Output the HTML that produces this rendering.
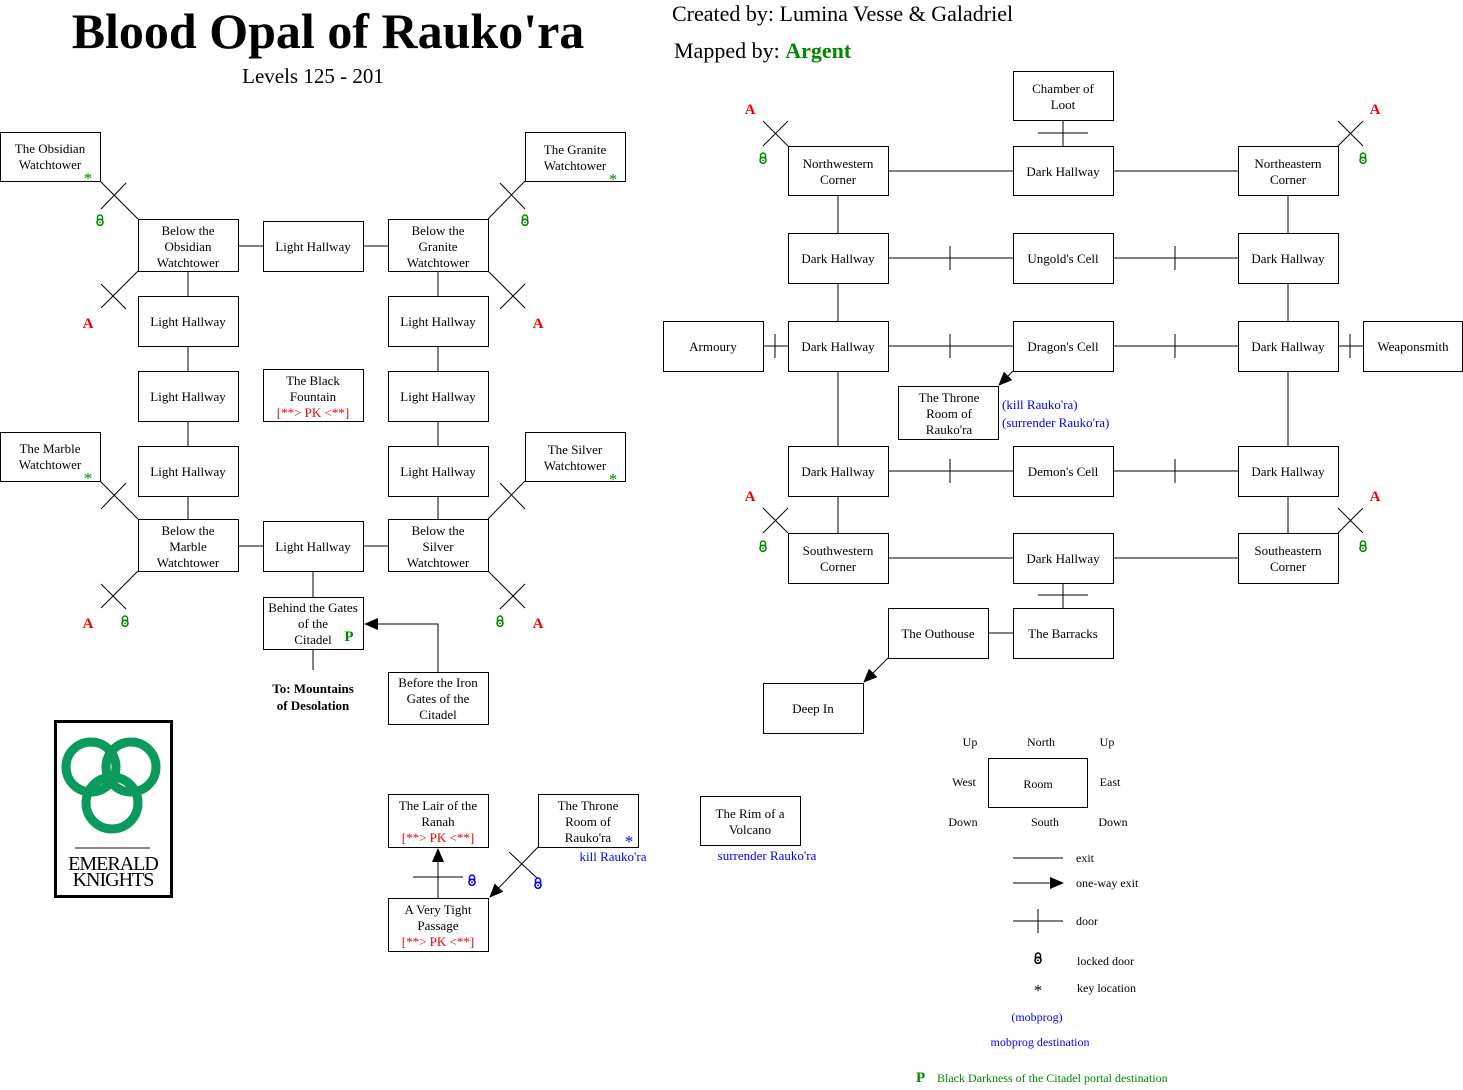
<!DOCTYPE html>
<html><head><meta charset="utf-8"><style>
html,body{margin:0;padding:0;background:#fff}
svg{display:block}
text{font-family:"Liberation Serif",serif;font-size:13px;fill:#000}
.c{text-anchor:middle}
.r{fill:#e00}
.b{fill:#00f}
.g{fill:#080}
.s{font-size:17px}
.A{fill:#e00;font-weight:bold;font-size:15px;text-anchor:middle}
rect.bx{fill:#fff;stroke:#000;stroke-width:1}
line,polyline{stroke:#000;stroke-width:1;fill:none}
.lg{font-size:12px}
</style></head><body>
<svg width="1463" height="1090" viewBox="0 0 1463 1090" xmlns="http://www.w3.org/2000/svg">
<defs>
<symbol id="lk" viewBox="0 0 8 12"><path d="M1.5 6 V3.5 a2.5 2.5 0 0 1 5 0 V6" fill="none" stroke="currentColor" stroke-width="1.5"/><circle cx="4" cy="8.3" r="3" fill="none" stroke="currentColor" stroke-width="1.6"/><circle cx="4" cy="8.3" r="0.9" fill="currentColor"/></symbol>
<marker id="ar" markerWidth="14" markerHeight="12" refX="13" refY="6" orient="auto" markerUnits="userSpaceOnUse"><path d="M0 0 L14 6 L0 12 Z" fill="#000"/></marker>
</defs>

<text x="328" y="48" class="c" style="font-size:50px;font-weight:bold">Blood Opal of Rauko'ra</text>
<text x="313" y="83" class="c" style="font-size:21px">Levels 125 - 201</text>
<text x="672" y="21" style="font-size:22px">Created by: Lumina Vesse &amp; Galadriel</text>
<text x="674" y="58" style="font-size:22px">Mapped by: <tspan style="fill:#080;font-weight:bold">Argent</tspan></text>

<line x1="238" y1="246" x2="263" y2="246"/><line x1="363" y1="246" x2="388" y2="246"/>
<line x1="238" y1="546" x2="263" y2="546"/><line x1="363" y1="546" x2="388" y2="546"/>
<line x1="188" y1="271" x2="188" y2="296"/><line x1="188" y1="346" x2="188" y2="371"/><line x1="188" y1="421" x2="188" y2="446"/><line x1="188" y1="496" x2="188" y2="519"/>
<line x1="438" y1="271" x2="438" y2="296"/><line x1="438" y1="346" x2="438" y2="371"/><line x1="438" y1="421" x2="438" y2="446"/><line x1="438" y1="496" x2="438" y2="519"/>
<line x1="313" y1="571" x2="313" y2="597"/><line x1="313" y1="649" x2="313" y2="670"/>
<polyline points="438,672 438,624 365,624" marker-end="url(#ar)"/>
<line x1="100" y1="181" x2="138" y2="219"/><line x1="101" y1="209" x2="126" y2="183"/>
<line x1="138" y1="271" x2="101" y2="308"/><line x1="101" y1="284" x2="126" y2="309"/>
<line x1="525" y1="181" x2="488" y2="219"/><line x1="500" y1="183" x2="525" y2="209"/>
<line x1="488" y1="271" x2="525" y2="308"/><line x1="525" y1="284" x2="500" y2="309"/>
<line x1="100" y1="481" x2="138" y2="519"/><line x1="101" y1="509" x2="126" y2="483"/>
<line x1="138" y1="571" x2="101" y2="608"/><line x1="101" y1="584" x2="126" y2="609"/>
<line x1="525" y1="481" x2="488" y2="519"/><line x1="500" y1="483" x2="525" y2="509"/>
<line x1="488" y1="571" x2="525" y2="608"/><line x1="525" y1="584" x2="500" y2="609"/>
<line x1="438" y1="898" x2="438" y2="849" marker-end="url(#ar)"/><line x1="413" y1="877" x2="463" y2="877"/>
<line x1="538" y1="847" x2="490" y2="897" marker-end="url(#ar)"/><line x1="509" y1="852" x2="537" y2="878"/>

<line x1="1063" y1="120" x2="1063" y2="146"/><line x1="1038" y1="133" x2="1088" y2="133"/>
<line x1="888" y1="171" x2="1013" y2="171"/><line x1="1113" y1="171" x2="1238" y2="171"/>
<line x1="888" y1="558" x2="1013" y2="558"/><line x1="1113" y1="558" x2="1238" y2="558"/>
<line x1="838" y1="195" x2="838" y2="233"/><line x1="838" y1="283" x2="838" y2="321"/><line x1="838" y1="371" x2="838" y2="446"/><line x1="838" y1="496" x2="838" y2="533"/>
<line x1="1288" y1="195" x2="1288" y2="233"/><line x1="1288" y1="283" x2="1288" y2="321"/><line x1="1288" y1="371" x2="1288" y2="446"/><line x1="1288" y1="496" x2="1288" y2="533"/>
<line x1="888" y1="258" x2="1013" y2="258"/><line x1="1113" y1="258" x2="1238" y2="258"/>
<line x1="888" y1="346" x2="1013" y2="346"/><line x1="1113" y1="346" x2="1238" y2="346"/>
<line x1="888" y1="471" x2="1013" y2="471"/><line x1="1113" y1="471" x2="1238" y2="471"/>
<line x1="950" y1="246" x2="950" y2="270"/><line x1="1175" y1="246" x2="1175" y2="270"/>
<line x1="950" y1="334" x2="950" y2="358"/><line x1="1175" y1="334" x2="1175" y2="358"/>
<line x1="950" y1="459" x2="950" y2="483"/><line x1="1175" y1="459" x2="1175" y2="483"/>
<line x1="763" y1="346" x2="788" y2="346"/><line x1="775" y1="334" x2="775" y2="358"/>
<line x1="1338" y1="346" x2="1363" y2="346"/><line x1="1350" y1="334" x2="1350" y2="358"/>
<line x1="1063" y1="583" x2="1063" y2="608"/><line x1="1038" y1="595" x2="1088" y2="595"/>
<line x1="988" y1="633" x2="1013" y2="633"/>
<line x1="1013" y1="371" x2="999" y2="385" marker-end="url(#ar)"/>
<line x1="888" y1="658" x2="864" y2="682" marker-end="url(#ar)"/>
<line x1="763" y1="121" x2="788" y2="146"/><line x1="763" y1="146" x2="788" y2="121"/>
<line x1="1338" y1="146" x2="1363" y2="121"/><line x1="1338" y1="121" x2="1363" y2="146"/>
<line x1="763" y1="508" x2="788" y2="533"/><line x1="763" y1="533" x2="788" y2="508"/>
<line x1="1338" y1="533" x2="1363" y2="508"/><line x1="1338" y1="508" x2="1363" y2="533"/>

<rect class="bx" x="0.5" y="132.5" width="100" height="49"/><text x="50" y="153" class="c">The Obsidian</text><text x="50" y="169" class="c">Watchtower</text><text x="88" y="184" class="c g s">*</text>
<rect class="bx" x="525.5" y="132.5" width="100" height="49"/><text x="575" y="154" class="c">The Granite</text><text x="575" y="170" class="c">Watchtower</text><text x="613" y="185" class="c g s">*</text>
<rect class="bx" x="0.5" y="432.5" width="100" height="49"/><text x="50" y="453" class="c">The Marble</text><text x="50" y="469" class="c">Watchtower</text><text x="88" y="484" class="c g s">*</text>
<rect class="bx" x="525.5" y="432.5" width="100" height="49"/><text x="575" y="454" class="c">The Silver</text><text x="575" y="470" class="c">Watchtower</text><text x="613" y="485" class="c g s">*</text>

<rect class="bx" x="138.5" y="219.5" width="100" height="52"/><text x="188" y="235" class="c">Below the</text><text x="188" y="251" class="c">Obsidian</text><text x="188" y="267" class="c">Watchtower</text>
<rect class="bx" x="263.5" y="221.5" width="100" height="50"/><text x="313" y="251" class="c">Light Hallway</text>
<rect class="bx" x="388.5" y="219.5" width="100" height="52"/><text x="438" y="235" class="c">Below the</text><text x="438" y="251" class="c">Granite</text><text x="438" y="267" class="c">Watchtower</text>
<rect class="bx" x="138.5" y="296.5" width="100" height="50"/><text x="188" y="326" class="c">Light Hallway</text>
<rect class="bx" x="388.5" y="296.5" width="100" height="50"/><text x="438" y="326" class="c">Light Hallway</text>
<rect class="bx" x="138.5" y="371.5" width="100" height="50"/><text x="188" y="401" class="c">Light Hallway</text>
<rect class="bx" x="263.5" y="369.5" width="100" height="52"/><text x="313" y="385" class="c">The Black</text><text x="313" y="401" class="c">Fountain</text><text x="313" y="417" class="c r">[**&gt; PK &lt;**]</text>
<rect class="bx" x="388.5" y="371.5" width="100" height="50"/><text x="438" y="401" class="c">Light Hallway</text>
<rect class="bx" x="138.5" y="446.5" width="100" height="50"/><text x="188" y="476" class="c">Light Hallway</text>
<rect class="bx" x="388.5" y="446.5" width="100" height="50"/><text x="438" y="476" class="c">Light Hallway</text>
<rect class="bx" x="138.5" y="519.5" width="100" height="52"/><text x="188" y="535" class="c">Below the</text><text x="188" y="551" class="c">Marble</text><text x="188" y="567" class="c">Watchtower</text>
<rect class="bx" x="263.5" y="521.5" width="100" height="50"/><text x="313" y="551" class="c">Light Hallway</text>
<rect class="bx" x="388.5" y="519.5" width="100" height="52"/><text x="438" y="535" class="c">Below the</text><text x="438" y="551" class="c">Silver</text><text x="438" y="567" class="c">Watchtower</text>
<rect class="bx" x="263.5" y="597.5" width="100" height="52"/><text x="313" y="612" class="c">Behind the Gates</text><text x="313" y="628" class="c">of the</text><text x="313" y="644" class="c">Citadel</text><text x="349" y="641" class="c g" style="font-weight:bold;font-size:15px">P</text>
<text x="313" y="693" class="c" style="font-weight:bold">To: Mountains</text><text x="313" y="710" class="c" style="font-weight:bold">of Desolation</text>
<rect class="bx" x="388.5" y="672.5" width="100" height="52"/><text x="438" y="687" class="c">Before the Iron</text><text x="438" y="703" class="c">Gates of the</text><text x="438" y="719" class="c">Citadel</text>

<rect class="bx" x="388.5" y="794.5" width="100" height="53"/><text x="438" y="810" class="c">The Lair of the</text><text x="438" y="826" class="c">Ranah</text><text x="438" y="842" class="c r">[**&gt; PK &lt;**]</text>
<rect class="bx" x="538.5" y="794.5" width="100" height="53"/><text x="588" y="810" class="c">The Throne</text><text x="588" y="826" class="c">Room of</text><text x="588" y="842" class="c">Rauko'ra</text><text x="629" y="847" class="c b s">*</text>
<text x="613" y="861" class="c b">kill Rauko'ra</text>
<rect class="bx" x="388.5" y="898.5" width="100" height="53"/><text x="438" y="914" class="c">A Very Tight</text><text x="438" y="930" class="c">Passage</text><text x="438" y="946" class="c r">[**&gt; PK &lt;**]</text>
<rect class="bx" x="700.5" y="796.5" width="100" height="49"/><text x="750" y="818" class="c">The Rim of a</text><text x="750" y="834" class="c">Volcano</text>
<text x="767" y="860" class="c b">surrender Rauko'ra</text>

<rect class="bx" x="1013.5" y="71.5" width="100" height="49"/><text x="1063" y="93" class="c">Chamber of</text><text x="1063" y="109" class="c">Loot</text>
<rect class="bx" x="788.5" y="146.5" width="100" height="49"/><text x="838" y="168" class="c">Northwestern</text><text x="838" y="184" class="c">Corner</text>
<rect class="bx" x="1013.5" y="146.5" width="100" height="49"/><text x="1063" y="176" class="c">Dark Hallway</text>
<rect class="bx" x="1238.5" y="146.5" width="100" height="49"/><text x="1288" y="168" class="c">Northeastern</text><text x="1288" y="184" class="c">Corner</text>
<rect class="bx" x="788.5" y="233.5" width="100" height="50"/><text x="838" y="263" class="c">Dark Hallway</text>
<rect class="bx" x="1013.5" y="233.5" width="100" height="50"/><text x="1063" y="263" class="c">Ungold's Cell</text>
<rect class="bx" x="1238.5" y="233.5" width="100" height="50"/><text x="1288" y="263" class="c">Dark Hallway</text>
<rect class="bx" x="663.5" y="321.5" width="100" height="50"/><text x="713" y="351" class="c">Armoury</text>
<rect class="bx" x="788.5" y="321.5" width="100" height="50"/><text x="838" y="351" class="c">Dark Hallway</text>
<rect class="bx" x="1013.5" y="321.5" width="100" height="50"/><text x="1063" y="351" class="c">Dragon's Cell</text>
<rect class="bx" x="1238.5" y="321.5" width="100" height="50"/><text x="1288" y="351" class="c">Dark Hallway</text>
<rect class="bx" x="1363.5" y="321.5" width="99" height="50"/><text x="1413" y="351" class="c">Weaponsmith</text>
<rect class="bx" x="898.5" y="386.5" width="100" height="53"/><text x="949" y="402" class="c">The Throne</text><text x="949" y="418" class="c">Room of</text><text x="949" y="434" class="c">Rauko'ra</text>
<text x="1002" y="409" class="b">(kill Rauko'ra)</text><text x="1002" y="427" class="b">(surrender Rauko'ra)</text>
<rect class="bx" x="788.5" y="446.5" width="100" height="50"/><text x="838" y="476" class="c">Dark Hallway</text>
<rect class="bx" x="1013.5" y="446.5" width="100" height="50"/><text x="1063" y="476" class="c">Demon's Cell</text>
<rect class="bx" x="1238.5" y="446.5" width="100" height="50"/><text x="1288" y="476" class="c">Dark Hallway</text>
<rect class="bx" x="788.5" y="533.5" width="100" height="50"/><text x="838" y="555" class="c">Southwestern</text><text x="838" y="571" class="c">Corner</text>
<rect class="bx" x="1013.5" y="533.5" width="100" height="50"/><text x="1063" y="563" class="c">Dark Hallway</text>
<rect class="bx" x="1238.5" y="533.5" width="100" height="50"/><text x="1288" y="555" class="c">Southeastern</text><text x="1288" y="571" class="c">Corner</text>
<rect class="bx" x="888.5" y="608.5" width="100" height="50"/><text x="938" y="638" class="c">The Outhouse</text>
<rect class="bx" x="1013.5" y="608.5" width="100" height="50"/><text x="1063" y="638" class="c">The Barracks</text>
<rect class="bx" x="763.5" y="683.5" width="100" height="50"/><text x="813" y="713" class="c">Deep In</text>

<text x="88" y="328" class="A">A</text><text x="538" y="328" class="A">A</text>
<text x="88" y="628" class="A">A</text><text x="538" y="628" class="A">A</text>
<text x="750" y="114" class="A">A</text><text x="1375" y="114" class="A">A</text>
<text x="750" y="501" class="A">A</text><text x="1375" y="501" class="A">A</text>

<g style="color:#080">
<use href="#lk" x="96" y="214" width="8" height="12"/><use href="#lk" x="521" y="214" width="8" height="12"/>
<use href="#lk" x="121" y="615" width="8" height="12"/><use href="#lk" x="496" y="615" width="8" height="12"/>
<use href="#lk" x="759" y="152" width="8" height="12"/><use href="#lk" x="1359" y="152" width="8" height="12"/>
<use href="#lk" x="759" y="540" width="8" height="12"/><use href="#lk" x="1359" y="540" width="8" height="12"/>
</g>
<g style="color:#00f">
<use href="#lk" x="468" y="874" width="8" height="12"/><use href="#lk" x="534" y="877" width="8" height="12"/>
</g>

<rect x="55.5" y="721.5" width="116" height="175" fill="#fff" stroke="#000" stroke-width="3"/>
<g fill="none" stroke="#0a9b5c" stroke-width="9">
<circle cx="91" cy="767" r="25"/><circle cx="131" cy="767" r="25"/><circle cx="112" cy="803" r="26"/>
</g>
<line x1="75" y1="848" x2="150" y2="848" style="stroke:#888;stroke-width:2"/>
<text x="113" y="870" class="c" style="font-size:20px;letter-spacing:-1px">EMERALD</text>
<text x="113" y="886" class="c" style="font-size:20px;letter-spacing:-1px">KNIGHTS</text>

<text x="970" y="746" class="c lg">Up</text><text x="1041" y="746" class="c lg">North</text><text x="1107" y="746" class="c lg">Up</text>
<text x="964" y="786" class="c lg">West</text><text x="1110" y="786" class="c lg">East</text>
<rect class="bx" x="988.5" y="758.5" width="99" height="49"/><text x="1038" y="788" class="c lg">Room</text>
<text x="963" y="826" class="c lg">Down</text><text x="1045" y="826" class="c lg">South</text><text x="1113" y="826" class="c lg">Down</text>
<line x1="1013" y1="858" x2="1063" y2="858"/><text x="1076" y="862" class="lg">exit</text>
<line x1="1013" y1="883" x2="1063" y2="883" marker-end="url(#ar)"/><text x="1076" y="887" class="lg">one-way exit</text>
<line x1="1013" y1="921" x2="1063" y2="921"/><line x1="1038" y1="909" x2="1038" y2="933"/><text x="1076" y="925" class="lg">door</text>
<g style="color:#000"><use href="#lk" x="1034" y="952" width="8" height="12"/></g><text x="1077" y="965" class="lg">locked door</text>
<text x="1038" y="996" class="c s">*</text><text x="1077" y="992" class="lg">key location</text>
<text x="1037" y="1021" class="c lg b">(mobprog)</text>
<text x="1040" y="1046" class="c lg b">mobprog destination</text>
<text x="916" y="1082" class="g" style="font-weight:bold;font-size:15px">P</text><text x="937" y="1082" class="lg g">Black Darkness of the Citadel  portal destination</text>
</svg>
</body></html>
